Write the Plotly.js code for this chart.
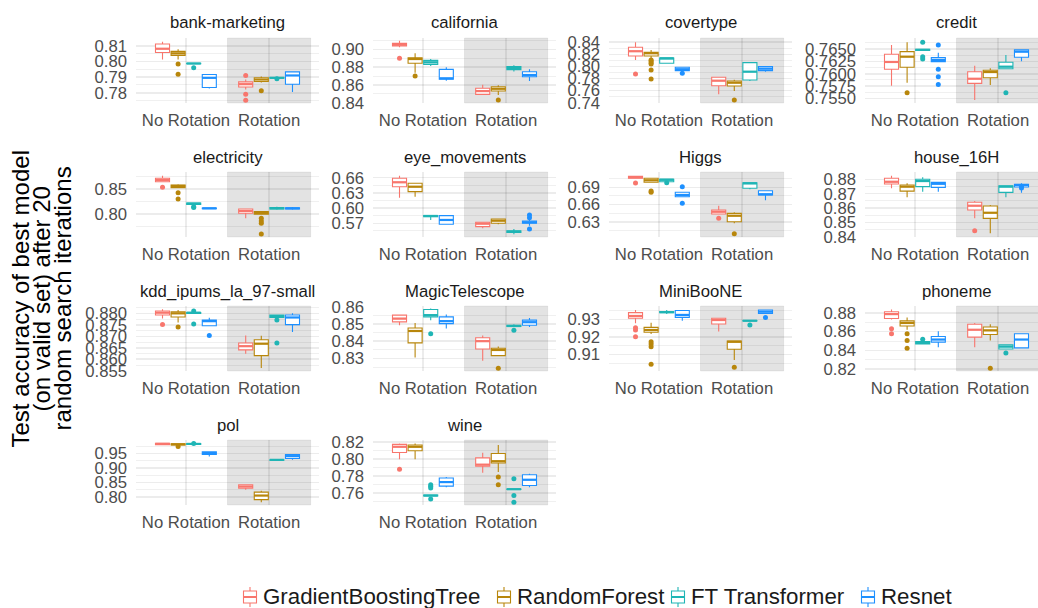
<!DOCTYPE html>
<html><head><meta charset="utf-8">
<script src="https://cdn.plot.ly/plotly-3.0.1.min.js"></script>
<style>html,body{margin:0;padding:0;background:#fff}</style>
</head><body><div id="chart" style="width:1038px;height:608px"></div>
<script>
// ---------------- DATA ----------------
const models = ['GradientBoostingTree', 'RandomForest', 'FT Transformer', 'Resnet'];
const rotations = ['No Rotation', 'Rotation'];
const datasetNames = ['bank-marketing', 'california', 'covertype', 'credit', 'electricity', 'eye_movements',
  'Higgs', 'house_16H', 'kdd_ipums_la_97-small', 'MagicTelescope', 'MiniBooNE', 'phoneme', 'pol', 'wine'];
// rows: GBT-NR, RF-NR, FT-NR, RN-NR, GBT-R, RF-R, FT-R, RN-R ; each [lower whisker, q1, median, q3, upper whisker]
const bankMarketing = [[0.8014,0.8059,0.8083,0.8113,0.8128],[0.8014,0.8040,0.8053,0.8066,0.8079],[0.7986,0.7986,0.7988,0.7990,0.7991],[0.7827,0.7834,0.7896,0.7917,0.7917],
  [0.7821,0.7837,0.7855,0.7870,0.7885],[0.7866,0.7872,0.7885,0.7896,0.7904],[0.7893,0.7894,0.7896,0.7897,0.7898],[0.7805,0.7855,0.7911,0.7934,0.7934]];
const bankMarketingOut = [[],[0.7984,0.7919],[0.7960],[],[0.7911,0.7790,0.7752],[0.7812],[0.7890],[]];
const california = [[0.9022,0.9037,0.9052,0.9067,0.9097],[0.8737,0.8843,0.8891,0.8906,0.8955],[0.8812,0.8831,0.8854,0.8876,0.8891],[0.8647,0.8663,0.8674,0.8775,0.8798],
  [0.8494,0.8494,0.8531,0.8562,0.8602],[0.8487,0.8531,0.8557,0.8580,0.8595],[0.8752,0.8772,0.8790,0.8805,0.8822],[0.8644,0.8692,0.8711,0.8748,0.8775]];
const californiaOut = [[0.8899],[0.8700],[],[],[],[0.8430],[],[]];
const covertype = [[0.8107,0.8173,0.8251,0.8317,0.8400],[0.8135,0.8173,0.8218,0.8234,0.8273],[0.8052,0.8052,0.8135,0.8140,0.8140],[0.7900,0.7930,0.7953,0.7986,0.7986],
  [0.7539,0.7681,0.7764,0.7821,0.7821],[0.7594,0.7677,0.7731,0.7759,0.7781],[0.7759,0.7776,0.7913,0.8062,0.8062],[0.7913,0.7930,0.7963,0.7996,0.7996]];
const covertypeOut = [[0.7875],[0.8107,0.8090,0.8060,0.8041,0.7941,0.7792],[],[0.7887],[],[0.7445],[],[]];
const credit = [[0.75757,0.76089,0.76237,0.76393,0.76581],[0.75818,0.76130,0.76344,0.76445,0.76636],[0.7646,0.7647,0.7648,0.7649,0.7650],[0.76243,0.76243,0.76277,0.76324,0.76425],
  [0.75468,0.75806,0.75899,0.76040,0.76162],[0.75771,0.75919,0.76034,0.76069,0.76109],[0.76101,0.76101,0.76142,0.76231,0.76379],[0.7625,0.76332,0.76445,0.7648,0.7648]];
const creditOut = [[],[0.75615],[0.76636,0.76344,0.76298],[0.76581,0.76089,0.75939,0.75785],[],[],[0.75615],[]];
const electricity = [[0.8654,0.8654,0.8688,0.8723,0.8775],[0.8533,0.8533,0.8567,0.8587,0.8600],[0.8101,0.8195,0.8210,0.8223,0.8223],[0.8100,0.8105,0.8115,0.8120,0.8125],
  [0.7913,0.8014,0.8061,0.8101,0.8101],[0.7994,0.7994,0.8020,0.8047,0.8047],[0.8087,0.8100,0.8115,0.8130,0.8148],[0.8087,0.8100,0.8115,0.8125,0.8142]];
const electricityOut = [[0.8540],[0.8431,0.8304],[0.8148,0.8130],[],[],[0.7913,0.7858,0.7812,0.7595],[],[]];
const eyeMovements = [[0.6206,0.6422,0.6509,0.6589,0.6639],[0.6225,0.6324,0.6422,0.6490,0.6490],[0.5766,0.5830,0.5845,0.5855,0.5860],[0.5681,0.5681,0.5766,0.5851,0.5851],
  [0.5602,0.5634,0.5693,0.5720,0.5720],[0.5681,0.5700,0.5752,0.5785,0.5785],[0.5484,0.5520,0.5535,0.5550,0.5588],[0.5650,0.5700,0.5720,0.5746,0.5780]];
const eyeMovementsOut = [[],[],[],[],[],[],[],[0.5864,0.5811,0.5588]];
const higgs = [[0.7057,0.7057,0.7075,0.7092,0.7100],[0.6987,0.6987,0.7022,0.7057,0.7068],[0.6952,0.6998,0.7033,0.7040,0.7045],[0.6736,0.6736,0.6766,0.6813,0.6813],
  [0.6434,0.6434,0.6474,0.6504,0.6579],[0.6272,0.6300,0.6404,0.6446,0.6464],[0.6865,0.6883,0.6970,0.6980,0.6980],[0.6673,0.6766,0.6778,0.6841,0.6841]];
const higgsOut = [[0.6975],[0.6835,0.6813],[0.6980],[0.6910,0.6621],[0.6359],[0.6090],[],[]];
const house16H = [[0.8737,0.8767,0.8783,0.8807,0.8825],[0.8675,0.8718,0.8749,0.8760,0.8772],[0.8714,0.8749,0.8788,0.8800,0.8814],[0.8714,0.8744,0.8769,0.8779,0.8779],
  [0.8528,0.8586,0.8616,0.8640,0.8649],[0.8424,0.8528,0.8567,0.8614,0.8621],[0.8675,0.8709,0.8749,0.8755,0.8755],[0.8707,0.8746,0.8760,0.8765,0.8772]];
const house16HOut = [[],[],[],[],[0.8442],[],[],[0.8752,0.8740]];
const kddIpums = [[0.8778,0.8793,0.8803,0.8810,0.8818],[0.8760,0.8784,0.8800,0.8807,0.8815],[0.8798,0.8800,0.8803,0.8804,0.8806],[0.8746,0.8746,0.8766,0.8771,0.8781],
  [0.8624,0.8641,0.8657,0.8671,0.8704],[0.8562,0.8616,0.8668,0.8685,0.8703],[0.8782,0.8782,0.8788,0.8793,0.8793],[0.8719,0.8751,0.8782,0.8793,0.8800]];
const kddIpumsOut = [[0.8751],[0.8741],[0.8810,0.8754],[0.8704],[],[],[0.8771,0.8671],[]];
const magicTelescope = [[0.8492,0.8512,0.8531,0.8551,0.8555],[0.8306,0.8390,0.8459,0.8476,0.8506],[0.8522,0.8541,0.8551,0.8584,0.8590],[0.8473,0.8502,0.8516,0.8541,0.8555],
  [0.8286,0.8355,0.8400,0.8420,0.8433],[0.8316,0.8316,0.8349,0.8359,0.8369],[0.8485,0.8486,0.8488,0.8492,0.8498],[0.8482,0.8492,0.8510,0.8522,0.8535]];
const magicTelescopeOut = [[],[],[0.8443],[],[],[0.8243],[0.8463],[]];
const miniBooNE = [[0.9277,0.9306,0.9319,0.9338,0.9353],[0.9216,0.9226,0.9239,0.9254,0.9281],[0.9330,0.9338,0.9341,0.9344,0.9353],[0.9292,0.9311,0.9325,0.9350,0.9353],
  [0.9230,0.9273,0.9296,0.9306,0.9306],[0.9068,0.9129,0.9172,0.9176,0.9176],[0.9290,0.9291,0.9292,0.9293,0.9294],[0.9334,0.9334,0.9344,0.9353,0.9356]];
const miniBooNEOut = [[0.9252,0.9239,0.9201],[0.9172,0.9159,0.9144,0.9043],[],[],[],[0.9026],[0.9268],[0.9311]];
const phoneme = [[0.8728,0.8739,0.8786,0.8811,0.8836],[0.8620,0.8660,0.8692,0.8714,0.8750],[0.8470,0.8470,0.8480,0.8495,0.8510],[0.8434,0.8488,0.8516,0.8549,0.8603],
  [0.8434,0.8542,0.8620,0.8678,0.8692],[0.8506,0.8570,0.8613,0.8649,0.8678],[0.8416,0.8416,0.8441,0.8459,0.8459],[0.8427,0.8427,0.8516,0.8577,0.8577]];
const phonemeOut = [[0.8631,0.8577],[0.8577,0.8506,0.8423],[0.8520],[],[],[0.8211],[0.8373],[]];
const pol = [[0.9790,0.9800,0.9830,0.9850,0.9860],[0.9780,0.9790,0.9815,0.9830,0.9840],[0.9800,0.9815,0.9830,0.9845,0.9855],[0.9395,0.9465,0.9512,0.9558,0.9558],
  [0.8244,0.8302,0.8360,0.8418,0.8418],[0.7814,0.7907,0.8046,0.8163,0.8209],[0.9265,0.9270,0.9279,0.9285,0.9290],[0.9279,0.9326,0.9407,0.9465,0.9465]];
const polOut = [[],[0.9740],[0.9840],[],[],[],[],[]];
const wine = [[0.7996,0.8075,0.8141,0.8169,0.8180],[0.7996,0.8094,0.8141,0.8161,0.8180],[0.7565,0.7568,0.7573,0.7578,0.7580],[0.7671,0.7683,0.7730,0.7777,0.7788],
  [0.7839,0.7914,0.7933,0.8012,0.8071],[0.7847,0.7953,0.7973,0.8063,0.8161],[0.7640,0.7644,0.7647,0.7650,0.7655],[0.7671,0.7690,0.7757,0.7816,0.7828]];
const wineOut = [[0.7879],[],[0.7698,0.7680,0.7660,0.7534],[],[],[0.7788,0.7698],[0.7769,0.7573,0.7494],[]];

const allStats = [bankMarketing, california, covertype, credit, electricity, eyeMovements, higgs, house16H, kddIpums, magicTelescope, miniBooNE, phoneme, pol, wine];
const allOut = [bankMarketingOut, californiaOut, covertypeOut, creditOut, electricityOut, eyeMovementsOut, higgsOut, house16HOut, kddIpumsOut, magicTelescopeOut, miniBooNEOut, phonemeOut, polOut, wineOut];

// ---------------- STYLE / LAYOUT ----------------
const colors = ['#F8766D', '#B8860B', '#1FB5B5', '#1E90FF'];
const yRanges = [[0.7734,0.8152],[0.8397,0.9127],[0.7395,0.847],[0.7541,0.7672],[0.7534,0.885],[0.543,0.6712],
  [0.6033,0.7167],[0.8398,0.8851],[0.8549,0.8832],[0.8227,0.8604],[0.9005,0.9376],[0.8182,0.8872],[0.772,0.9965],[0.7463,0.822]];
const yDticks = [0.01,0.02,0.02,0.0025,0.05,0.03,0.03,0.01,0.005,0.01,0.01,0.02,0.05,0.02];
const yFormats = ['.2f','.2f','.2f','.4f','.2f','.2f','.2f','.2f','.3f','.2f','.2f','.2f','.2f','.2f'];

const W = 1038, H = 608;
const colLeft = [136, 373, 609, 865];
const panelW = 183;
const rowTop = [38, 172, 306, 440];
const panelH = 65;
const offsets = [-0.28125, -0.09375, 0.09375, 0.28125];
const boxW = 0.169;
const gridC = 'rgba(0,0,0,0.075)';
const font = 'Liberation Sans, Arial, Helvetica, sans-serif';
const px = v => v / W, py = v => 1 - v / H;

const traces = [];
const layout = {
  width: W, height: H, margin: {l:0, r:0, t:0, b:0},
  paper_bgcolor: '#fff', plot_bgcolor: 'rgba(0,0,0,0)',
  showlegend: false, boxmode: 'overlay',
  font: {family: font, color: '#4D4D4D'},
  shapes: [], annotations: []
};

datasetNames.forEach((name, fi) => {
  const n = fi === 0 ? '' : String(fi + 1);
  const stats = allStats[fi], outs = allOut[fi];
  const col = fi % 4, row = Math.floor(fi / 4);
  const left = colLeft[col], right = Math.min(W, left + panelW);
  const xMax = 0.4 + 2.2 * (right - left) / panelW;
  const top = rowTop[row], bottom = top + panelH;

  models.forEach((m, mi) => {
    const xs = [], lo = [], q1 = [], med = [], q3 = [], hi = [];
    const ox = [], oy = [], mx = [], my = [];
    rotations.forEach((r, ri) => {
      const s = stats[ri * 4 + mi];
      const p = ri + 1 + offsets[mi];
      xs.push(p); lo.push(s[0]); q1.push(s[1]); med.push(s[2]); q3.push(s[3]); hi.push(s[4]);
      mx.push(p - boxW / 2, p + boxW / 2, null); my.push(s[2], s[2], null);
      outs[ri * 4 + mi].forEach(v => { ox.push(p); oy.push(v); });
    });
    traces.push({type: 'box', orientation: 'v', x: xs, lowerfence: lo, q1: q1, median: med, q3: q3, upperfence: hi,
      width: boxW, whiskerwidth: 0, fillcolor: 'white', line: {color: colors[mi], width: 1.1},
      boxpoints: false, name: m, legendgroup: m, showlegend: false, hoverinfo: 'skip',
      xaxis: 'x' + n, yaxis: 'y' + n});
    traces.push({type: 'scatter', mode: 'lines', x: mx, y: my, line: {color: colors[mi], width: 2.2},
      showlegend: false, hoverinfo: 'skip', legendgroup: m, xaxis: 'x' + n, yaxis: 'y' + n, cliponaxis: false});
    if (ox.length) traces.push({type: 'scatter', mode: 'markers', x: ox, y: oy,
      marker: {color: colors[mi], size: 5}, showlegend: false, hoverinfo: 'skip', legendgroup: m,
      xaxis: 'x' + n, yaxis: 'y' + n, cliponaxis: false});
  });

  layout['xaxis' + n] = {domain: [px(left), px(right)], range: [0.4, xMax], anchor: 'y' + n,
    tickmode: 'array', tickvals: [1, 2], ticktext: rotations, ticks: '', showgrid: true,
    gridcolor: gridC, gridwidth: 1.6, zeroline: false, showline: false, fixedrange: true,
    tickfont: {size: 16.7, color: '#4D4D4D', family: font}, ticklabelstandoff: 5};
  layout['yaxis' + n] = {domain: [py(bottom), py(top)], range: yRanges[fi], anchor: 'x' + n,
    tickmode: 'linear', tick0: 0, dtick: yDticks[fi], tickformat: yFormats[fi], ticks: '',
    showgrid: true, gridcolor: gridC, gridwidth: 1.6, zeroline: false, showline: false, fixedrange: true,
    minor: {tickmode: 'linear', tick0: 0, dtick: yDticks[fi] / 2, showgrid: true, gridcolor: gridC, gridwidth: 0.8, ticks: ''},
    tickfont: {size: 16.7, color: '#4D4D4D', family: font}, ticklabelstandoff: 8};

  layout.shapes.push({type: 'rect', xref: 'x' + n, yref: 'y' + n + ' domain', x0: 1.5, x1: 2.5, y0: 0, y1: 1,
    fillcolor: '#E3E3E3', line: {color: 'rgba(0,0,0,0.06)', width: 1}, layer: 'below'});
  layout.annotations.push({text: name, xref: 'paper', yref: 'paper', x: px(left + panelW / 2),
    y: py(top - 15), xanchor: 'center', yanchor: 'middle', showarrow: false,
    font: {size: 16.7, color: '#1A1A1A', family: font}});
});

// y-axis title (three lines)
const yTitleLines = ['Test accuracy of best model', '(on valid set) after 20', 'random search iterations'];
const yTitleX = [19.5, 40.5, 61.5];
yTitleLines.forEach((t, i) => {
  layout.annotations.push({text: t, xref: 'paper', yref: 'paper', x: px(yTitleX[i]), y: py(299),
    xanchor: 'center', yanchor: 'middle', textangle: -90, showarrow: false,
    font: {size: 24, color: '#000', family: font}});
});

// legend (drawn as keys + text)
const legIconX = [250, 504, 678, 868];
const legY = 596;
models.forEach((m, mi) => {
  const c = legIconX[mi];
  layout.shapes.push({type: 'rect', xref: 'paper', yref: 'paper', x0: px(c - 6.5), x1: px(c + 6.5), y0: py(603), y1: py(591),
    fillcolor: 'white', line: {color: colors[mi], width: 1.1}});
  layout.shapes.push({type: 'line', xref: 'paper', yref: 'paper', x0: px(c - 6.5), x1: px(c + 6.5), y0: py(597), y1: py(597),
    line: {color: colors[mi], width: 2}});
  layout.shapes.push({type: 'line', xref: 'paper', yref: 'paper', x0: px(c), x1: px(c), y0: py(587), y1: py(591),
    line: {color: colors[mi], width: 1.1}});
  layout.shapes.push({type: 'line', xref: 'paper', yref: 'paper', x0: px(c), x1: px(c), y0: py(603), y1: py(607),
    line: {color: colors[mi], width: 1.1}});
  layout.annotations.push({text: m, xref: 'paper', yref: 'paper', x: px(c + 11), y: py(legY),
    xanchor: 'left', yanchor: 'middle', showarrow: false, font: {size: 22.3, color: '#1A1A1A', family: font}});
});

Plotly.newPlot('chart', traces, layout, {staticPlot: true, displayModeBar: false});
</script></body></html>
